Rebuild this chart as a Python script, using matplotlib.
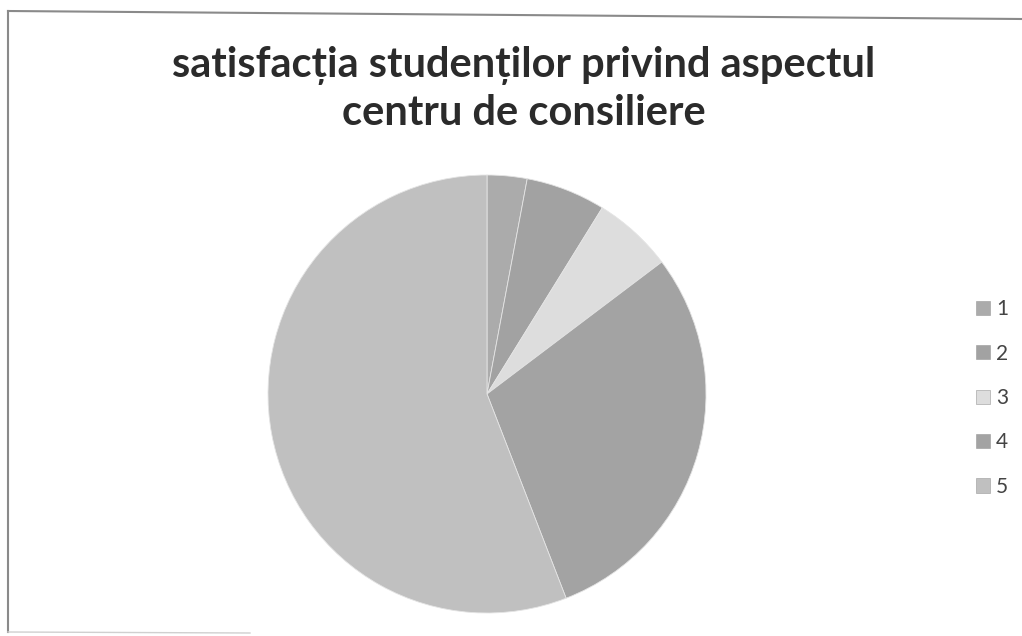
import matplotlib.pyplot as plt
from matplotlib.patches import Patch
from matplotlib.lines import Line2D

# ---- data ----
labels = ["1", "2", "3", "4", "5"]
counts = [1, 2, 2, 10, 19]
colors = ["#ababab", "#a2a2a2", "#dddddd", "#a3a3a3", "#c0c0c0"]
title_lines = ["satisfacția studenților privind aspectul", "centru de consiliere"]

W, H = 1022, 636
fig = plt.figure(figsize=(W / 100, H / 100), dpi=100)
fig.patch.set_facecolor("white")

# frame of the chart (scan is slightly tilted)
fig.add_artist(Line2D([8 / W, 1.0], [1 - 11 / H, 1 - 19 / H], color="#8a8a8a", lw=1.5))
fig.add_artist(Line2D([8 / W, 8 / W], [1 - 11 / H, 1 - 632 / H], color="#8a8a8a", lw=1.5))
fig.add_artist(Line2D([8 / W, 250 / W], [1 - 632 / H, 1 - 633 / H], color="#d0d0d0", lw=1))

# title (two lines, baselines)
for txt, base in zip(title_lines, [77, 125]):
    fig.text(524 / W, 1 - base / H, txt, ha="center", va="baseline",
             fontsize=30, fontweight="bold", family="Lato", color="#2b2b2b")

# pie
cx, cy, r = 487, 394, 219
ax = fig.add_axes([(cx - r) / W, (H - cy - r) / H, 2 * r / W, 2 * r / H])
wedges, _ = ax.pie(counts, colors=colors, startangle=90, counterclock=False,
                   radius=1, wedgeprops=dict(edgecolor="#e4e4e4", linewidth=0.6))
ax.set_xlim(-1, 1)
ax.set_ylim(-1, 1)
ax.axis("off")

# legend
handles = [Patch(facecolor=c, edgecolor="#999999", linewidth=0.4) for c in colors]
leg = fig.legend(handles, labels, loc="center left",
                 bbox_to_anchor=(976 / W, 1 - 398 / H), frameon=False,
                 prop=dict(family="Lato", size=15), labelspacing=1.17,
                 handlelength=0.67, handleheight=0.67, handletextpad=0.3,
                 borderpad=0, borderaxespad=0)
for t in leg.get_texts():
    t.set_color("#444444")

fig.savefig("out.png", dpi=100)
